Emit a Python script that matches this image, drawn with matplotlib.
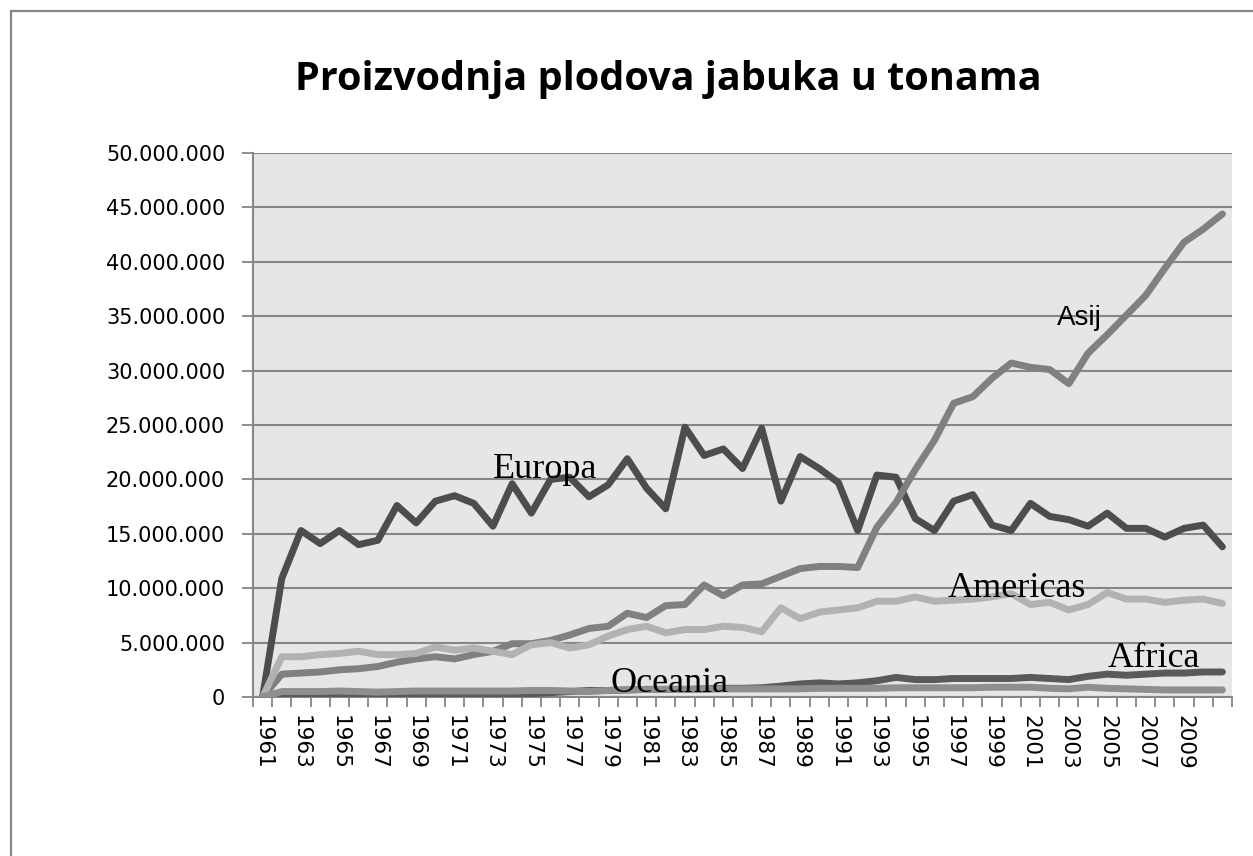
import matplotlib
matplotlib.use("Agg")
import matplotlib.pyplot as plt
from matplotlib.patches import Rectangle
from matplotlib.ticker import FuncFormatter
import numpy as np

# godine 1961-2011, vrijednosti u milijunima tona
godine = list(range(1961, 2012))

europa = [0, 10.9, 15.3, 14.1, 15.3, 14.0, 14.4, 17.6, 16.0, 18.0, 18.5, 17.8, 15.7, 19.6, 16.9,
          20.0, 20.2, 18.4, 19.5, 21.9, 19.2, 17.3, 24.8, 22.2, 22.8, 21.0, 24.7, 18.0, 22.1, 21.0,
          19.7, 15.3, 20.4, 20.2, 16.4, 15.3, 18.0, 18.6, 15.8, 15.3, 17.8, 16.6, 16.3, 15.7, 16.9,
          15.5, 15.5, 14.7, 15.5, 15.8, 13.8]
azija = [0, 2.1, 2.2, 2.3, 2.5, 2.6, 2.8, 3.2, 3.5, 3.7, 3.5, 3.9, 4.2, 4.9, 4.9, 5.2, 5.7, 6.3,
         6.5, 7.7, 7.3, 8.4, 8.5, 10.3, 9.3, 10.3, 10.4, 11.1, 11.8, 12.0, 12.0, 11.9, 15.6, 17.9,
         20.9, 23.6, 27.0, 27.6, 29.3, 30.7, 30.3, 30.1, 28.8, 31.6, 33.3, 35.1, 36.9, 39.4, 41.8,
         43.0, 44.4]
amerike = [0, 3.7, 3.7, 3.9, 4.0, 4.2, 3.9, 3.9, 4.0, 4.6, 4.3, 4.5, 4.2, 3.9, 4.8, 5.0, 4.5,
           4.8, 5.6, 6.2, 6.5, 5.9, 6.2, 6.2, 6.5, 6.4, 6.0, 8.2, 7.2, 7.8, 8.0, 8.2, 8.8, 8.8, 9.2,
           8.8, 8.9, 9.0, 9.2, 9.5, 8.5, 8.7, 8.0, 8.5, 9.6, 9.0, 9.0, 8.7, 8.9, 9.0, 8.6]
afrika = [0, 0.1, 0.1, 0.1, 0.1, 0.1, 0.1, 0.1, 0.1, 0.1, 0.1, 0.15, 0.2, 0.25, 0.3, 0.4, 0.5,
          0.6, 0.6, 0.65, 0.7, 0.7, 0.7, 0.75, 0.8, 0.8, 0.85, 1.0, 1.2, 1.3, 1.2, 1.3, 1.5, 1.8,
          1.6, 1.6, 1.7, 1.7, 1.7, 1.7, 1.8, 1.7, 1.6, 1.9, 2.1, 2.0, 2.1, 2.2, 2.2, 2.3, 2.3]
oceanija = [0, 0.5, 0.5, 0.5, 0.55, 0.5, 0.45, 0.5, 0.55, 0.55, 0.55, 0.55, 0.55, 0.55, 0.6, 0.6,
            0.55, 0.5, 0.6, 0.65, 0.7, 0.7, 0.7, 0.7, 0.75, 0.75, 0.75, 0.75, 0.75, 0.8, 0.8, 0.8,
            0.8, 0.85, 0.85, 0.85, 0.85, 0.85, 0.9, 0.9, 0.9, 0.8, 0.75, 0.9, 0.8, 0.75, 0.7, 0.65,
            0.65, 0.65, 0.65]

x = np.arange(len(godine))

fig = plt.figure(figsize=(12.53, 8.56), dpi=100)
fig.patch.set_facecolor("white")

# okvir grafikona
fig.add_artist(Rectangle((11 / 1253, -0.1), 1.2, 1 - 11 / 856 + 0.1, transform=fig.transFigure,
                         fill=False, edgecolor="#878787", linewidth=1.6))

ax = fig.add_axes([253 / 1253, 1 - 697 / 856, (1232 - 253) / 1253, (697 - 153) / 856])
ax.set_facecolor("#e6e6e6")

serije = [(europa, "#4d4d4d"), (azija, "#808080"), (amerike, "#b2b2b2"),
          (afrika, "#5a5a5a"), (oceanija, "#8e8e8e")]
for vrijednosti, boja in serije:
    ax.plot(x, np.array(vrijednosti) * 1e6, color=boja, linewidth=5,
            solid_joinstyle="round", solid_capstyle="round", zorder=3)

ax.set_xlim(-0.5, len(godine) - 0.5)
ax.set_ylim(0, 50e6)
ax.set_yticks(np.arange(0, 50e6 + 1, 5e6))
ax.yaxis.set_major_formatter(FuncFormatter(lambda v, p: f"{int(v):,}".replace(",", ".")))
ax.grid(axis="y", color="#868686", linewidth=1.5, zorder=1)
ax.set_axisbelow(True)

# crtice izmedju kategorija, oznake svake druge godine
ax.set_xticks(np.arange(-0.5, len(godine), 1.0))
ax.set_xticklabels([])
ax.set_xticks(x[::2], minor=True)
ax.set_xticklabels([str(g) if g != 2011 else "" for g in godine[::2]], minor=True,
                   rotation=-90, fontsize=15.5, family="DejaVu Sans")
ax.tick_params(axis="x", which="major", length=7, width=1.3, color="#868686", direction="out")
ax.tick_params(axis="x", which="minor", length=0, pad=13)
ax.tick_params(axis="y", length=8, width=1.3, color="#868686", pad=12, labelsize=15)
for lab in ax.get_yticklabels():
    lab.set_family("DejaVu Sans")

for s in ["top", "right"]:
    ax.spines[s].set_visible(False)
for s in ["left", "bottom"]:
    ax.spines[s].set_color("#868686")
    ax.spines[s].set_linewidth(1.5)

fig.text(668 / 1253, 1 - 90 / 856, "Proizvodnja plodova jabuka u tonama", ha="center",
         va="baseline", fontsize=28.5, fontweight="bold", family="Open Sans")

ax.text(12.0, 20.1e6, "Europa", family="Liberation Serif", fontsize=26, va="baseline", zorder=5)
ax.text(41.4, 34.2e6, "Asij", family="Liberation Sans", fontsize=20, va="baseline", zorder=5)
ax.text(35.7, 9.2e6, "Americas", family="Liberation Serif", fontsize=26, va="baseline", zorder=5)
ax.text(44.0, 2.76e6, "Africa", family="Liberation Serif", fontsize=26, va="baseline", zorder=5)
ax.text(18.1, 0.46e6, "Oceania", family="Liberation Serif", fontsize=26, va="baseline", zorder=5)

plt.savefig("out.png", dpi=100)
